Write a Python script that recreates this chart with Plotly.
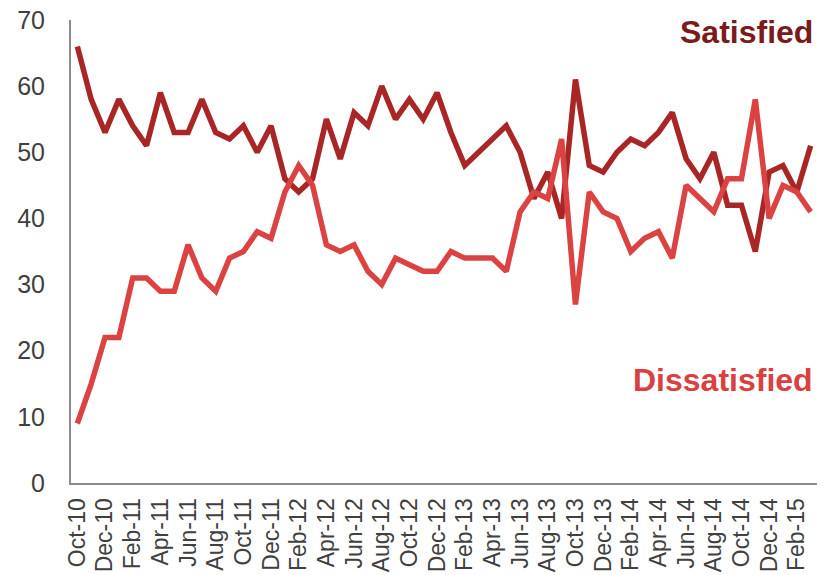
import plotly.graph_objects as go

months = ["Oct-10", "Nov-10", "Dec-10", "Jan-11", "Feb-11", "Mar-11", "Apr-11", "May-11", "Jun-11",
          "Jul-11", "Aug-11", "Sep-11", "Oct-11", "Nov-11", "Dec-11", "Jan-12", "Feb-12", "Mar-12",
          "Apr-12", "May-12", "Jun-12", "Jul-12", "Aug-12", "Sep-12", "Oct-12", "Nov-12", "Dec-12",
          "Jan-13", "Feb-13", "Mar-13", "Apr-13", "May-13", "Jun-13", "Jul-13", "Aug-13", "Sep-13",
          "Oct-13", "Nov-13", "Dec-13", "Jan-14", "Feb-14", "Mar-14", "Apr-14", "May-14", "Jun-14",
          "Jul-14", "Aug-14", "Sep-14", "Oct-14", "Nov-14", "Dec-14", "Jan-15", "Feb-15", "Mar-15"]

satisfied = [66, 58, 53, 58, 54, 51, 59, 53, 53,
             58, 53, 52, 54, 50, 54, 46, 44, 46,
             55, 49, 56, 54, 60, 55, 58, 55, 59,
             53, 48, 50, 52, 54, 50, 43, 47, 40,
             61, 48, 47, 50, 52, 51, 53, 56, 49,
             46, 50, 42, 42, 35, 47, 48, 44, 51]

dissatisfied = [9, 15, 22, 22, 31, 31, 29, 29, 36,
                31, 29, 34, 35, 38, 37, 44, 48, 45,
                36, 35, 36, 32, 30, 34, 33, 32, 32,
                35, 34, 34, 34, 32, 41, 44, 43, 52,
                27, 44, 41, 40, 35, 37, 38, 34, 45,
                43, 41, 46, 46, 58, 40, 45, 44, 41]

tick_labels = months[::2]

sat_color = "#A92626"
dis_color = "#DB4242"

fig = go.Figure()
fig.add_trace(go.Scatter(x=months, y=satisfied, mode="lines", name="Satisfied",
                         line=dict(color=sat_color, width=5.5)))
fig.add_trace(go.Scatter(x=months, y=dissatisfied, mode="lines", name="Dissatisfied",
                         line=dict(color=dis_color, width=5.5)))

fig.update_layout(
    width=829, height=575,
    margin=dict(l=71, r=12, t=20, b=92),
    paper_bgcolor="white", plot_bgcolor="white",
    showlegend=False,
    font=dict(family="Liberation Sans, Arial, sans-serif", color="#404040"),
    xaxis=dict(type="category", categoryorder="array", categoryarray=months,
               range=[-0.46, len(months) - 1 + 0.46],
               tickmode="array", tickvals=tick_labels, ticktext=tick_labels,
               tickangle=-90, tickfont=dict(size=23, color="#404040"),
               showgrid=False, zeroline=False, showline=True, linecolor="#8c8c8c",
               linewidth=2, ticks="", ticklabelstandoff=4, automargin=False),
    yaxis=dict(range=[0, 70], dtick=10, tickfont=dict(size=25, color="#404040"),
               showgrid=False, zeroline=False, showline=True, linecolor="#8c8c8c",
               linewidth=2, ticks="", ticklabelstandoff=19, automargin=False),
    annotations=[
        dict(text="<b>Satisfied</b>", xref="paper", yref="paper", x=0.997, y=0.974,
             xanchor="right", yanchor="middle", showarrow=False,
             font=dict(size=32, color="#7A1A1A", family="Liberation Sans, Arial, sans-serif")),
        dict(text="<b>Dissatisfied</b>", xref="paper", yref="paper", x=0.997, y=0.2225,
             xanchor="right", yanchor="middle", showarrow=False,
             font=dict(size=32, color="#DA4040", family="Liberation Sans, Arial, sans-serif")),
    ],
)

fig.write_html("out.html", config={"displayModeBar": False},
               post_script="document.body.style.margin='0px';")
